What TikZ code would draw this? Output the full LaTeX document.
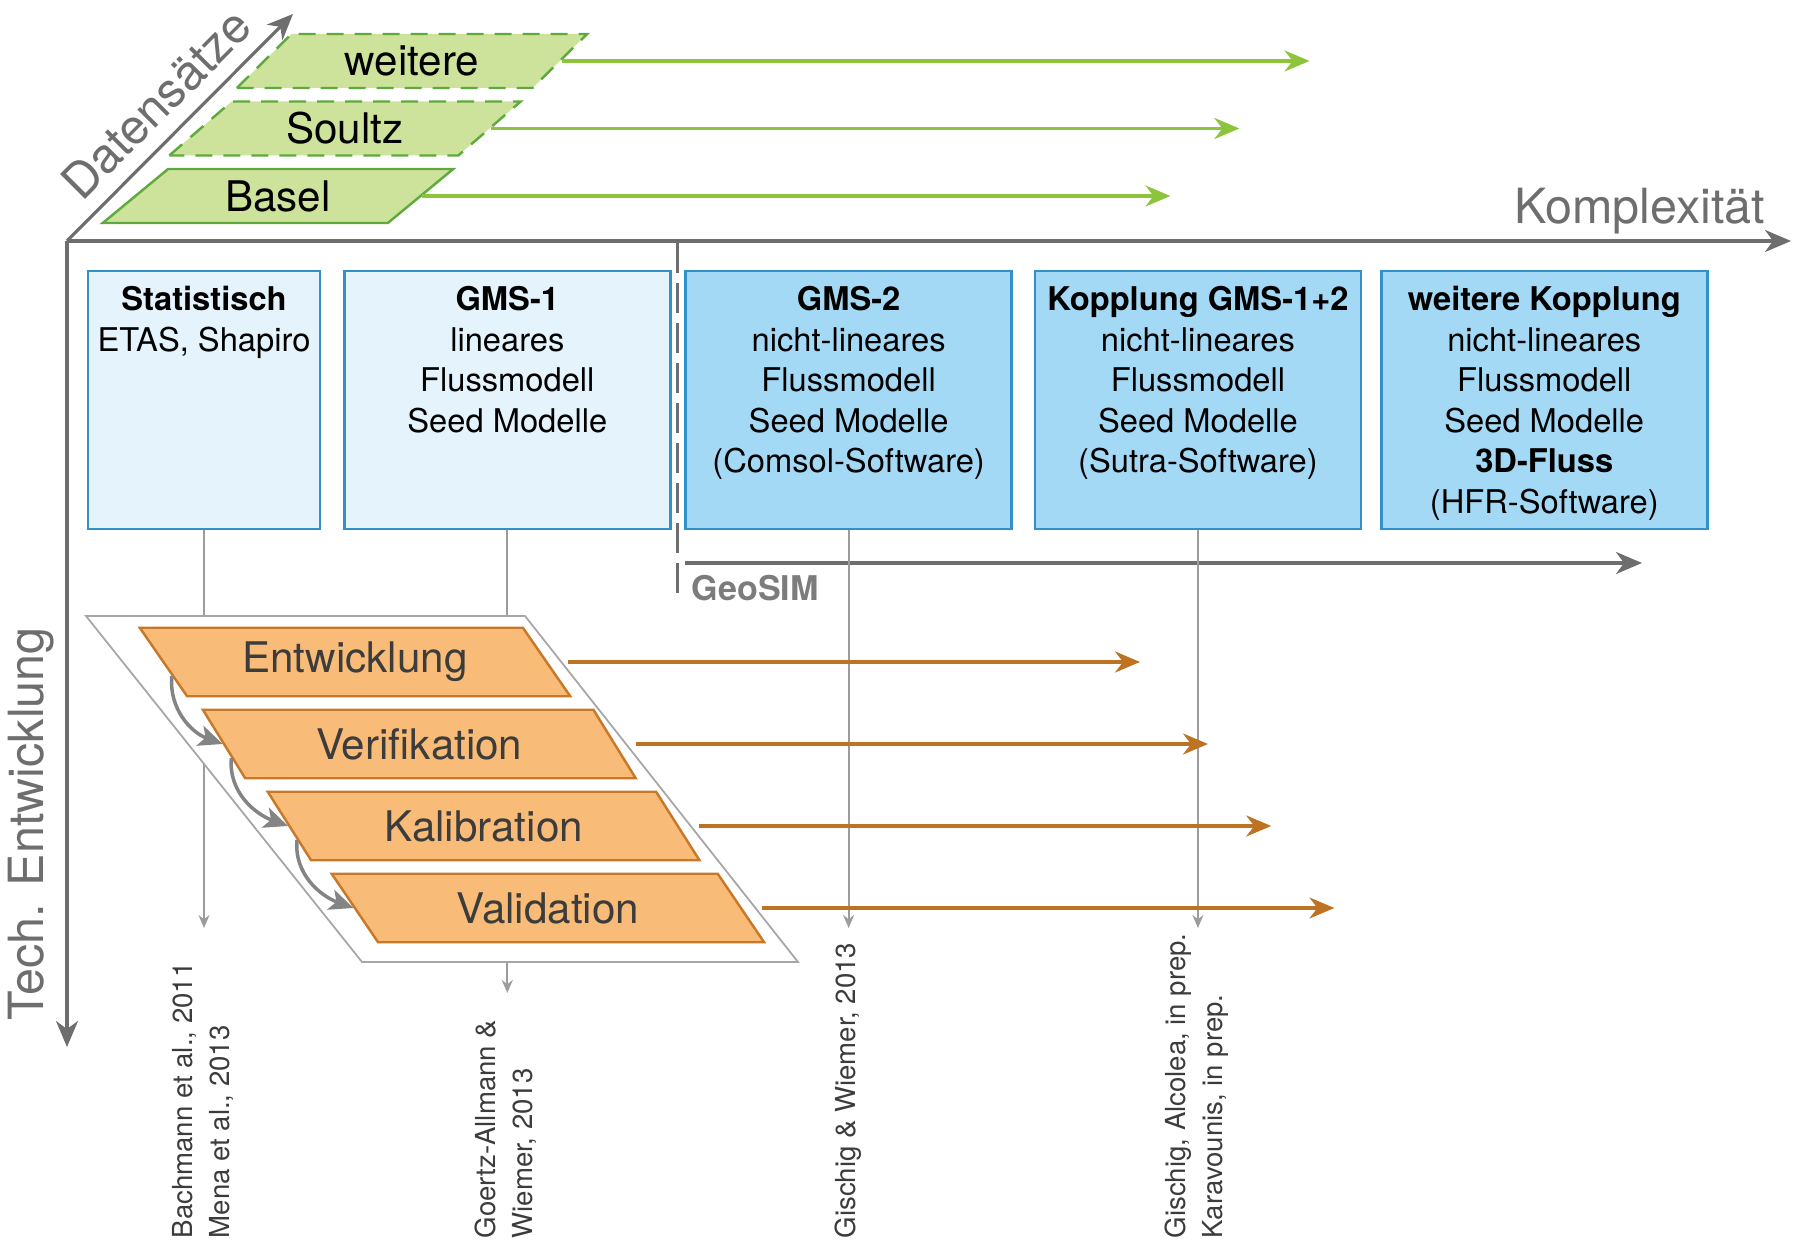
\documentclass[tikz,border=0pt]{standalone}
\usepackage{fontspec}
\setmainfont{TeX Gyre Heros}
\usetikzlibrary{arrows.meta,positioning,shapes.geometric,calc}

\definecolor{axisgray}{HTML}{6E6E6E}
\definecolor{refgray}{HTML}{9C9C9C}
\definecolor{textgray}{HTML}{3C3C3C}
\definecolor{datafill}{HTML}{CDE29B}
\definecolor{dataline}{HTML}{5FAA3C}
\definecolor{dataarrow}{HTML}{8CC43C}
\definecolor{lightblue}{HTML}{E4F3FC}
\definecolor{darkblue}{HTML}{A3D9F5}
\definecolor{boxline}{HTML}{3291C8}
\definecolor{phasefill}{HTML}{F8BC78}
\definecolor{phaseline}{HTML}{C87828}
\definecolor{phasearrow}{HTML}{BE7323}

\newcommand{\modellines}[1]{\begin{tabular}[t]{@{}c@{}}#1\end{tabular}}

\tikzset{
  mainaxis/.style={axisgray, line width=0.9pt, -{Stealth[length=2.6mm,width=2.2mm,inset=0.8mm]}},
  axislabel/.style={text=axisgray, inner sep=0pt, font=\fontsize{13.8}{16}\selectfont},
  dataset/.style={trapezium, trapezium left angle=45, trapezium right angle=135,
    trapezium stretches=true, minimum width=35.2mm, minimum height=5.4mm, inner sep=0pt,
    fill=datafill, draw=dataline, line width=0.7pt, font=\fontsize{12}{14}\selectfont},
  dataflow/.style={dataarrow, line width=0.9pt, -{Stealth[length=2.5mm,width=2.1mm,inset=0.8mm]}},
  modelbox/.style={draw=boxline, line width=0.8pt, minimum width=32.6mm,
    inner xsep=0.5mm, inner ysep=1.3mm, text height=2.7mm, text depth=20.5mm,
    font=\fontsize{9.3}{11.5}\selectfont},
  phasebox/.style={trapezium, trapezium left angle=128.5, trapezium right angle=51.5,
    trapezium stretches=true, minimum width=43.3mm, minimum height=6.85mm, inner sep=0pt,
    fill=phasefill, draw=phaseline, line width=0.7pt, text=textgray,
    font=\fontsize{12}{14}\selectfont},
  phaseflow/.style={phasearrow, line width=0.9pt, shorten <=2mm,
    -{Stealth[length=2.5mm,width=2.1mm,inset=0.8mm]}},
  loopback/.style={axisgray!85, line width=1pt, -{Stealth[length=2.4mm,width=2.1mm,inset=0.6mm]}},
  refarrow/.style={refgray, line width=0.5pt, -{Stealth[length=1.3mm,width=1.1mm]}},
  reftext/.style={rotate=90, anchor=west, align=left, inner sep=0pt, text=textgray,
    font=\fontsize{7.85}{10.5}\selectfont},
}

\begin{document}
\begin{tikzpicture}[x=1mm,y=1mm]
  \useasboundingbox (0,0) rectangle (180,124.2);

  \coordinate (origin) at (6.7,100.1);
  \coordinate (komplex) at (179.1,100.1);
  \coordinate (technik) at (6.7,19.5);
  \coordinate (daten) at (29.3,122.8);
  \draw[mainaxis] (origin) -- (komplex);
  \draw[mainaxis] (origin) -- (technik);
  \draw[mainaxis] (origin) -- node[axislabel, sloped, above=1.4mm] (datenlabel) {Datensätze} (daten);
  \node[axislabel, anchor=base east] (komplexlabel) at (176.6,101.8) {Komplexität};
  \node[axislabel, rotate=90, anchor=south] (techlabel) at (5.5,41.8) {Tech. Entwicklung};

  \node[dataset] (basel) at (27.8,104.6) {Basel};
  \node[dataset, dash pattern=on 1.7mm off 1.1mm] (soultz) at (34.5,111.35) {Soultz};
  \node[dataset, dash pattern=on 1.7mm off 1.1mm] (weitere) at (41.2,118.1) {weitere};
  \foreach \name in {basel,soultz,weitere}
    \draw[dataflow] (\name.right side) -- ++(74.8,0);

  \node[modelbox, fill=lightblue, minimum width=23.2mm] (stat) at (20.4,84.2)
    {\modellines{\textbf{Statistisch}\\ETAS, Shapiro}};
  \node[modelbox, fill=lightblue, right=2.15mm of stat] (gms1)
    {\modellines{\textbf{GMS-1}\\lineares\\Flussmodell\\Seed Modelle}};
  \node[modelbox, fill=darkblue, right=1.25mm of gms1] (gms2)
    {\modellines{\textbf{GMS-2}\\nicht-lineares\\Flussmodell\\Seed Modelle\\(Comsol-Software)}};
  \node[modelbox, fill=darkblue, right=2.05mm of gms2] (kopplung)
    {\modellines{\textbf{Kopplung GMS-1+2}\\nicht-lineares\\Flussmodell\\Seed Modelle\\(Sutra-Software)}};
  \node[modelbox, fill=darkblue, right=1.75mm of kopplung] (weiterekopplung)
    {\modellines{\textbf{weitere Kopplung}\\nicht-lineares\\Flussmodell\\Seed Modelle\\\textbf{3D-Fluss}\\(HFR-Software)}};

  \coordinate (geotop) at (67.75,99.9);
  \coordinate (geobottom) at (67.75,64.2);
  \coordinate (geostart) at (68.5,67.9);
  \draw[axisgray, line width=0.6pt, dash pattern=on 3mm off 1mm] (geotop) -- (geobottom);
  \draw[mainaxis] (geostart) -- ++(95.7,0);
  \node[anchor=west, inner sep=0pt, text=axisgray!90, font=\fontsize{9.7}{11}\selectfont\bfseries]
    (geosim) at (69.1,65.4) {GeoSIM};

  \node[reftext] (statref) at (20.3,0.3) {Bachmann et al., 2011\\Mena et al., 2013};
  \node[reftext] (gms1ref) at (50.6,0.3) {Goertz-Allmann \&\\Wiemer, 2013};
  \node[reftext] (gms2ref) at (84.8,0.3) {Gischig \& Wiemer, 2013};
  \node[reftext] (kopplungref) at (119.7,0.3) {Gischig, Alcolea, in prep.\\Karavounis, in prep.};
  \coordinate (refend) at (0,31.4);
  \coordinate (refendlow) at (0,24.9);
  \draw[refarrow] (stat) -- (stat |- refend);
  \draw[refarrow] (gms1) -- (gms1 |- refendlow);
  \draw[refarrow] (gms2) -- (gms2 |- refend);
  \draw[refarrow] (kopplung) -- (kopplung |- refend);

  \draw[refgray!90, fill=white, line width=0.5pt]
    (8.6,62.6) -- (52.5,62.6) -- (79.8,28.0) -- (36.2,28.0) -- cycle;

  \foreach \name/\label [count=\i from 0] in
      {entw/Entwicklung, verif/Verifikation, kalib/Kalibration, valid/Validation} {
    \node[phasebox] (\name) at (35.5+6.43*\i, 58.0-8.2*\i) {\label};
    \draw[phaseflow] (\name.right side) -- ++(59.2,0);
  }
  \foreach \a/\b in {entw/verif, verif/kalib, kalib/valid}
    \draw[loopback] ($(\a.top left corner)!0.7!(\a.bottom left corner)$)
      to[out=-95, in=160] (\b.left side);
\end{tikzpicture}
\end{document}
